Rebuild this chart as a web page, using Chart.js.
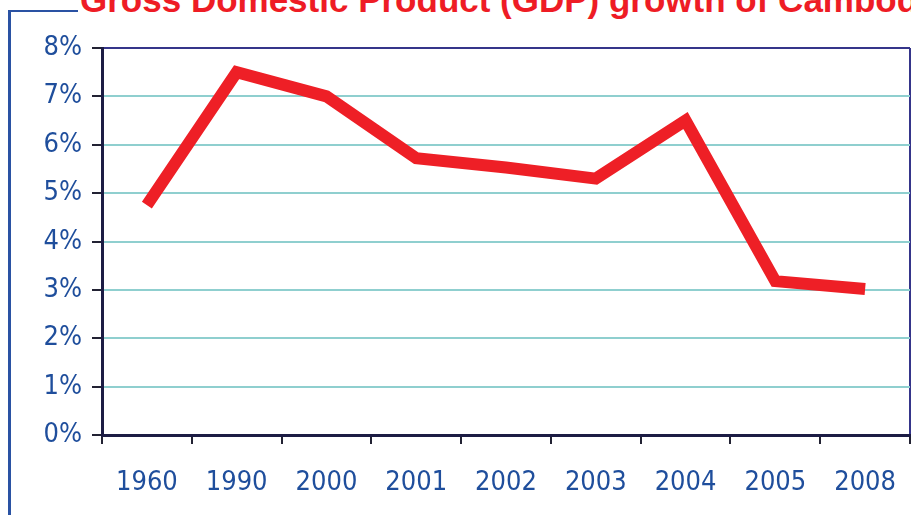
<!DOCTYPE html>
<html>
<head>
<meta charset="utf-8">
<script src="https://cdn.jsdelivr.net/npm/chart.js@4.4.1/dist/chart.umd.min.js"></script>
<style>
  html, body { margin:0; padding:0; background:#fff; overflow:hidden; }
  #wrap { position:relative; width:911px; height:515px; overflow:hidden; }
  #title { position:absolute; left:80px; top:-18px; white-space:nowrap; font-family:"Liberation Sans", Arial, sans-serif; font-weight:bold; font-size:35px; line-height:35px; color:#ee1c25; }
  #frameV { position:absolute; left:8px; top:10px; width:3px; height:520px; background:#2a52a3; }
  #frameH { position:absolute; left:8px; top:10px; width:70px; height:2px; background:#2a52a3; }
  #c { position:absolute; left:0; top:0; }
</style>
</head>
<body>
<div id="wrap">
  <div id="frameV"></div>
  <div id="frameH"></div>
  <div id="title">Gross Domestic Product (GDP) growth of Cambodia</div>
  <canvas id="c" width="911" height="515"></canvas>
</div>
<script>
const years = ["1960","1990","2000","2001","2002","2003","2004","2005","2008"];
const gdpGrowth = [4.75, 7.5, 7.0, 5.72, 5.53, 5.3, 6.5, 3.18, 3.02];
const yTicks = [0,1,2,3,4,5,6,7,8];

const yFont = { family: "'Liberation Sans Narrow', 'DejaVu Sans Condensed', sans-serif", size: 27 };
const xFont = { family: "'Liberation Sans Narrow', 'DejaVu Sans Condensed', sans-serif", size: 27 };
const labelColor = '#1f4e9c';

new Chart(document.getElementById('c'), {
  type: 'line',
  data: {
    labels: years,
    datasets: [{
      data: gdpGrowth,
      borderColor: '#ee1f26',
      borderWidth: 12,
      pointRadius: 0,
      tension: 0,
      fill: false,
      borderCapStyle: 'butt',
      borderJoinStyle: 'miter'
    }]
  },
  options: {
    responsive: false,
    animation: false,
    layout: { padding: { top: 48, right: 1, left: 0, bottom: 0 } },
    plugins: { legend: { display: false }, tooltip: { enabled: false }, title: { display: false } },
    scales: {
      x: {
        offset: true,
        grid: {
          offset: true,
          drawOnChartArea: true,
          color: ctx => ctx.type === 'scale' ? '#35358a' : 'rgba(0,0,0,0)',
          lineWidth: 2,
          drawTicks: true,
          tickLength: 9,
          tickColor: '#222233',
          tickWidth: 2
        },
        border: { display: true, color: '#1c1c44', width: 3 },
        ticks: { color: labelColor, font: xFont, padding: 23, maxRotation: 0, autoSkip: false },
        afterFit: s => { s.height = 80; s.paddingLeft = 0; s.paddingRight = 0; }
      },
      y: {
        min: 0, max: 8,
        afterBuildTicks: s => { s.ticks = yTicks.map(v => ({ value: v })); },
        grid: {
          color: ctx => (ctx.tick && ctx.tick.value === 8) ? '#35358a' : '#8fcfcf',
          lineWidth: ctx => (ctx.tick && ctx.tick.value === 0) ? 0 : 2,
          drawTicks: true,
          tickLength: 10,
          tickColor: '#222233',
          tickWidth: 2
        },
        border: { display: true, color: '#1c1c44', width: 3 },
        ticks: { color: labelColor, font: yFont, padding: 10, callback: v => v + '%' },
        afterFit: s => { s.width = 102; }
      }
    }
  }
});
</script>
</body>
</html>
